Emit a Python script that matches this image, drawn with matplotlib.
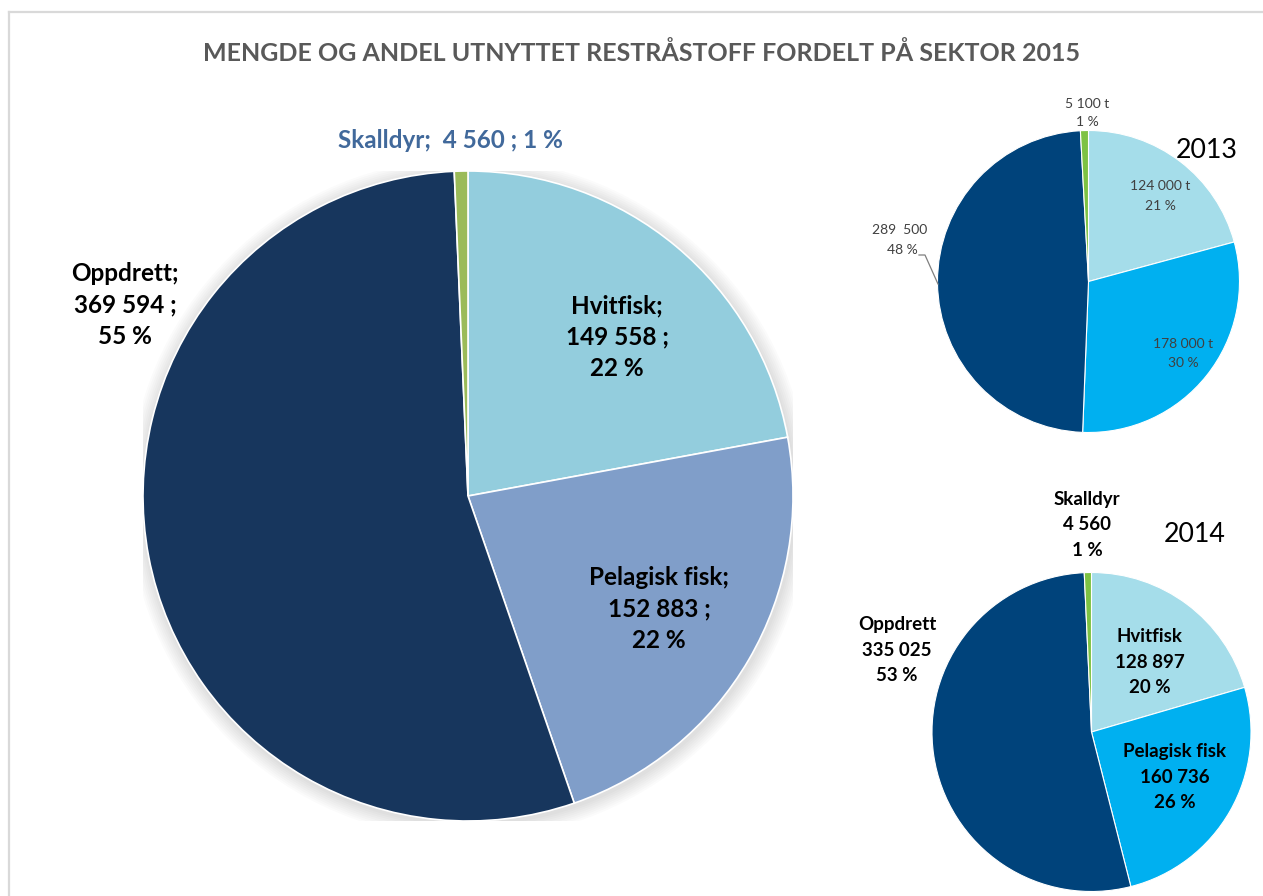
import matplotlib.pyplot as plt
from matplotlib.patches import Circle

W, H = 1263, 896

# 2015 amounts (tonnes)
sectors_2015 = ["Hvitfisk", "Pelagisk fisk", "Oppdrett", "Skalldyr"]
values_2015 = [149558, 152883, 369594, 4560]
pct_2015 = [22, 22, 55, 1]

# 2013
values_2013 = [124000, 178000, 289500, 5100]
labels_2013 = ["124 000 t", "178 000 t", "289  500", "5 100 t"]
pct_2013 = [21, 30, 48, 1]

# 2014
sectors_2014 = ["Hvitfisk", "Pelagisk fisk", "Oppdrett", "Skalldyr"]
values_2014 = [128897, 160736, 335025, 4560]
labels_2014 = ["128 897", "160 736", "335 025", "4 560"]
pct_2014 = [20, 26, 53, 1]

colors_big = ["#93CDDD", "#809EC9", "#17365D", "#9BBB59"]
colors_small = ["#A5DDEA", "#00B0F0", "#00437B", "#7DC243"]

FONT = "Lato"


def px(x, y):
    return x / W, 1 - y / H


def pie_axes(fig, cx, cy, r):
    ax = fig.add_axes([(cx - r) / W, (H - cy - r) / H, 2 * r / W, 2 * r / H])
    return ax


def draw_pie(ax, values, colors, lw=1.0, shadow=False):
    if shadow:
        for i in range(8):
            ax.add_patch(Circle((0.004, -0.008), 1.0 + 0.006 * (i + 1),
                                color="black", alpha=0.015, lw=0, zorder=0))
    ax.pie(values, colors=colors, startangle=90, counterclock=False,
           radius=1.0, wedgeprops=dict(edgecolor="white", linewidth=lw))
    ax.set_xlim(-1.0, 1.0)
    ax.set_ylim(-1.0, 1.0)
    ax.set_aspect("auto")
    ax.axis("off")


def fmt(n):
    return f"{n:,}".replace(",", " ")


fig = plt.figure(figsize=(W / 100, H / 100), dpi=100)

# frame lines at top and left
fig.add_artist(plt.Line2D([8.5 / W, 1], [1 - 12.5 / H] * 2, color="#D9D9D9", lw=1.6))
fig.add_artist(plt.Line2D([8.5 / W] * 2, [0, 1 - 12.5 / H], color="#D9D9D9", lw=1.6))

fig.text(*px(642, 53), "MENGDE OG ANDEL UTNYTTET RESTRÅSTOFF FORDELT PÅ SEKTOR 2015",
         ha="center", va="center", fontsize=18, fontweight="bold",
         color="#595959", family=FONT)

# main pie 2015
ax = pie_axes(fig, 468, 496, 325)
draw_pie(ax, values_2015, colors_big, lw=1.2, shadow=True)

big = dict(ha="center", va="center", fontsize=17.5, fontweight="bold",
           color="black", family=FONT, linespacing=1.45)
fig.text(*px(617, 337), f"{sectors_2015[0]};\n{fmt(values_2015[0])} ;\n{pct_2015[0]} %", **big)
fig.text(*px(659, 609), f"{sectors_2015[1]};\n{fmt(values_2015[1])} ;\n{pct_2015[1]} %", **big)
fig.text(*px(125, 305), f"{sectors_2015[2]};\n{fmt(values_2015[2])} ;\n{pct_2015[2]} %", **big)
fig.text(*px(450, 140), f"{sectors_2015[3]};  {fmt(values_2015[3])} ; {pct_2015[3]} %",
         **{**big, "color": "#41699B"})

# 2013 pie
ax13 = pie_axes(fig, 1088.5, 281.5, 151)
draw_pie(ax13, values_2013, colors_small, lw=0.8)
small = dict(ha="center", va="center", fontsize=10, color="#404040",
             family=FONT, linespacing=1.7)
fig.text(*px(1160, 196), f"{labels_2013[0]}\n{pct_2013[0]} %", **small)
fig.text(*px(1183, 353), f"{labels_2013[1]}\n{pct_2013[1]} %", **small)
fig.text(*px(1087, 113), f"{labels_2013[3]}\n{pct_2013[3]} %", **small)
fig.text(*px(900, 230), f"{labels_2013[2]}", **small)
fig.text(*px(918, 250), f"{pct_2013[2]} %", **{**small, "ha": "right"})
fig.add_artist(plt.Line2D([px(919, 0)[0], px(925, 0)[0], px(938, 0)[0]],
                          [px(0, 255)[1], px(0, 255)[1], px(0, 284)[1]],
                          color="#7F7F7F", lw=0.9))
fig.text(*px(1207, 150), "2013", ha="center", va="center", fontsize=19.3,
         color="black", family=FONT)

# 2014 pie
ax14 = pie_axes(fig, 1091.5, 732, 159.5)
draw_pie(ax14, values_2014, colors_small, lw=0.8)
mid = dict(ha="center", va="center", fontsize=13.5, fontweight="bold",
           color="black", family=FONT, linespacing=1.6)
fig.text(*px(1150, 662), f"{sectors_2014[0]}\n{labels_2014[0]}\n{pct_2014[0]} %", **mid)
fig.text(*px(1175, 777), f"{sectors_2014[1]}\n{labels_2014[1]}\n{pct_2014[1]} %", **mid)
fig.text(*px(897, 650), f"{sectors_2014[2]}\n{labels_2014[2]}\n{pct_2014[2]} %", **mid)
fig.text(*px(1087, 525), f"{sectors_2014[3]}\n{labels_2014[3]}\n{pct_2014[3]} %", **mid)
fig.text(*px(1195, 535), "2014", ha="center", va="center", fontsize=19.3,
         color="black", family=FONT)

fig.savefig("out.png", dpi=100)
